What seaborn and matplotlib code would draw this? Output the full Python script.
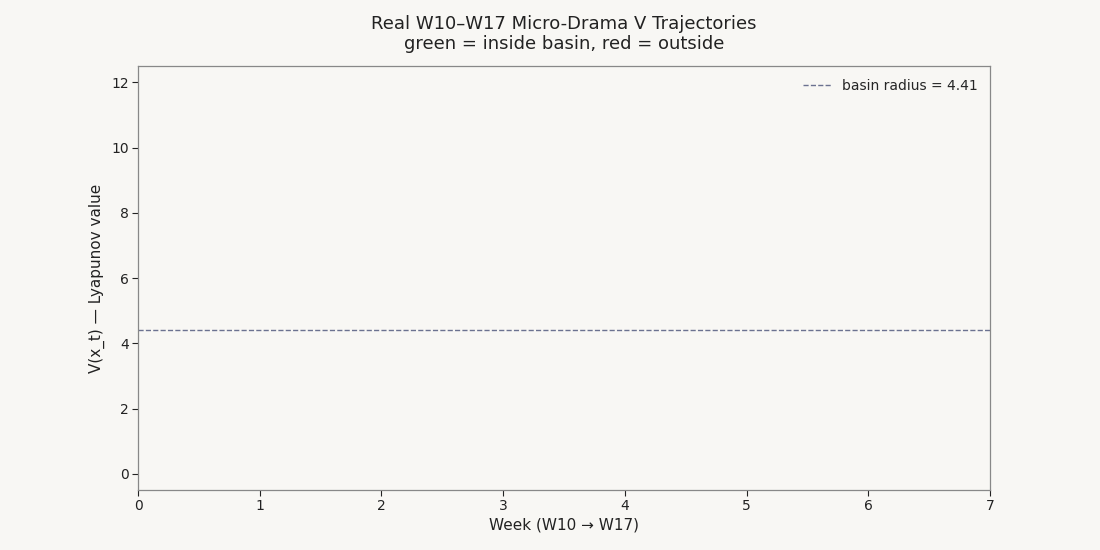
import matplotlib
matplotlib.use("Agg")
import matplotlib.pyplot as plt
import seaborn as sns
import pandas as pd

# Data
weeks = [0, 1, 2, 3, 4, 5, 6, 7]
basin_radius = 4.41
inside_series = []   # no trajectories shown in the reference
outside_series = []
x_ticks = [0, 1, 2, 3, 4, 5, 6, 7]
y_ticks = [0, 2, 4, 6, 8, 10, 12]

sns.set_theme(style="white")
plt.rcParams['font.family'] = ['DejaVu Sans']

bg = "#f8f7f4"
fig, ax = plt.subplots(figsize=(11, 5.5), dpi=100)
fig.patch.set_facecolor(bg)
ax.set_facecolor(bg)

for vals in inside_series:
    sns.lineplot(x=weeks[:len(vals)], y=vals, ax=ax, color="#2e8b57")
for vals in outside_series:
    sns.lineplot(x=weeks[:len(vals)], y=vals, ax=ax, color="#c0392b")

ax.axhline(basin_radius, color="#6b7290", linestyle="--", linewidth=1.0,
           label=f"basin radius = {basin_radius:.2f}")

ax.set_xlim(0, 7)
ax.set_ylim(-0.5, 12.5)
ax.set_xticks(x_ticks)
ax.set_yticks(y_ticks)
ax.tick_params(axis="both", labelsize=10, colors="#222222", length=4, width=0.8,
               left=True, bottom=True, pad=2.8)
for s in ax.spines.values():
    s.set_color("#888888")
    s.set_linewidth(0.9)

ax.set_xlabel("Week (W10 → W17)", fontsize=11, color="#222222", labelpad=3)
ax.set_ylabel("V(x_t) — Lyapunov value", fontsize=11, color="#222222")
ax.set_title("Real W10–W17 Micro-Drama V Trajectories\ngreen = inside basin, red = outside",
             fontsize=13, color="#222222", pad=12)

leg = ax.legend(loc="upper right", frameon=False, fontsize=10)

plt.subplots_adjust(left=0.1255, right=0.9, top=0.88, bottom=0.109)
fig.savefig("out.png", dpi=100, facecolor=bg)
